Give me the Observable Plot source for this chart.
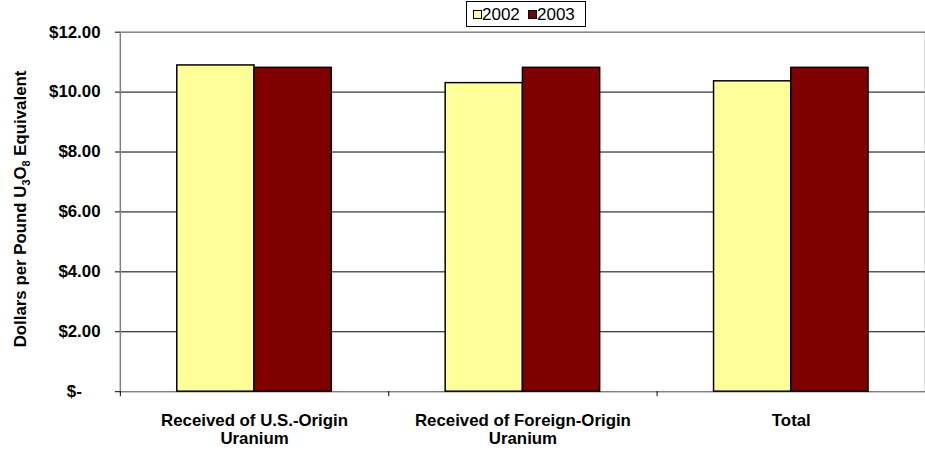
<!DOCTYPE html>
<html><head><meta charset="utf-8">
<script src="https://cdn.jsdelivr.net/npm/d3@7"></script>
<script src="https://cdn.jsdelivr.net/npm/@observablehq/plot@0.6"></script>
<style>
html,body{margin:0;padding:0;background:#fff;overflow:hidden;}
#wrap{position:relative;width:925px;height:453px;overflow:hidden;font-family:"Liberation Sans",Arial,sans-serif;}
#chart{position:absolute;left:0;top:0;}
#legend{position:absolute;left:466px;top:1px;width:120px;height:26px;border:1px solid #000;box-sizing:border-box;background:#fff;font-size:17px;}
.sw{position:absolute;top:8px;width:9px;height:9px;border:1px solid #000;box-sizing:border-box;}
.lt{position:absolute;top:3px;line-height:19px;}
</style>
</head><body>
<div id="wrap"><div id="chart"></div><div id="legend"></div></div>
<script>
const categories = ["Received of U.S.-Origin\nUranium", "Received of Foreign-Origin\nUranium", "Total"];
const years = ["2002", "2003"];
const values2002 = [10.89, 10.30, 10.36];
const values2003 = [10.81, 10.81, 10.81];
const colors = ["#FFFF99", "#800000"];
const yTicks = [0, 2, 4, 6, 8, 10, 12];
const yTickLabels = ["$-\u00a0\u00a0\u00a0\u00a0", "$2.00", "$4.00", "$6.00", "$8.00", "$10.00", "$12.00"];

const W = 934, H = 453, ML = 121, MT = 32, MB = 58;
const bw = (W - ML) / categories.length;
const barW = 78;
const side = (bw - 2 * barW) / 2;

const rows2002 = categories.map((c, i) => ({category: c, value: values2002[i]}));
const rows2003 = categories.map((c, i) => ({category: c, value: values2003[i]}));

const font = {fontFamily: "'Liberation Sans', Arial, sans-serif", fontSize: "17px", fontWeight: "bold"};

const plot = Plot.plot({
  width: W, height: H,
  marginLeft: ML, marginRight: 0, marginTop: MT, marginBottom: MB,
  style: {...font, background: "#fff", color: "#000"},
  x: {type: "band", domain: categories, paddingInner: 0, paddingOuter: 0, axis: null},
  y: {domain: [0, 12], axis: null},
  marks: [
    Plot.ruleY(yTicks.filter(d => d > 0 && d < 12), {y: d => d, stroke: "#000", strokeWidth: 1}),
    Plot.frame({stroke: "#808080", strokeWidth: 1.5}),
    Plot.barY(rows2002, {x: "category", y: "value", fill: colors[0], stroke: "#000", strokeWidth: 1.5, insetLeft: side, insetRight: side + barW}),
    Plot.barY(rows2003, {x: "category", y: "value", fill: colors[1], stroke: "#000", strokeWidth: 1.5, insetLeft: side + barW, insetRight: side}),
    Plot.axisY(yTicks, {tickFormat: d => yTickLabels[yTicks.indexOf(d)], tickSize: 5, tickPadding: 15, stroke: "#000", fontSize: 17, fontWeight: "bold", label: null}),
    Plot.axisX({tickSize: 5, tickFormat: () => "", dx: -bw / 2, stroke: "#000", label: null}),
    Plot.text(categories, {x: d => d, text: d => d, frameAnchor: "bottom", lineAnchor: "top", dy: 22, lineHeight: 1.06, fontSize: 17, fontWeight: "bold", fill: "#000"})
  ]
});

// y-axis title with subscripts
const svg = d3.select(plot);
const t = svg.append("text")
  .attr("transform", "translate(26,211) rotate(-90)")
  .attr("text-anchor", "middle")
  .attr("font-size", 17).attr("font-weight", "bold").attr("fill", "#000");
t.append("tspan").text("Dollars per Pound U");
t.append("tspan").attr("dy", 4).attr("font-size", 11).text("3");
t.append("tspan").attr("dy", -4).text("O");
t.append("tspan").attr("dy", 4).attr("font-size", 11).text("8");
t.append("tspan").attr("dy", -4).text(" Equivalent");

document.getElementById("chart").appendChild(plot);

// legend
const lg = document.getElementById("legend");
const pos = [[6, 15], [61, 70]];
years.forEach((y, i) => {
  const s = document.createElement("div");
  s.className = "sw"; s.style.left = pos[i][0] + "px"; s.style.background = colors[i];
  lg.appendChild(s);
  const l = document.createElement("div");
  l.className = "lt"; l.style.left = pos[i][1] + "px"; l.textContent = y;
  lg.appendChild(l);
});
</script>
</body></html>
